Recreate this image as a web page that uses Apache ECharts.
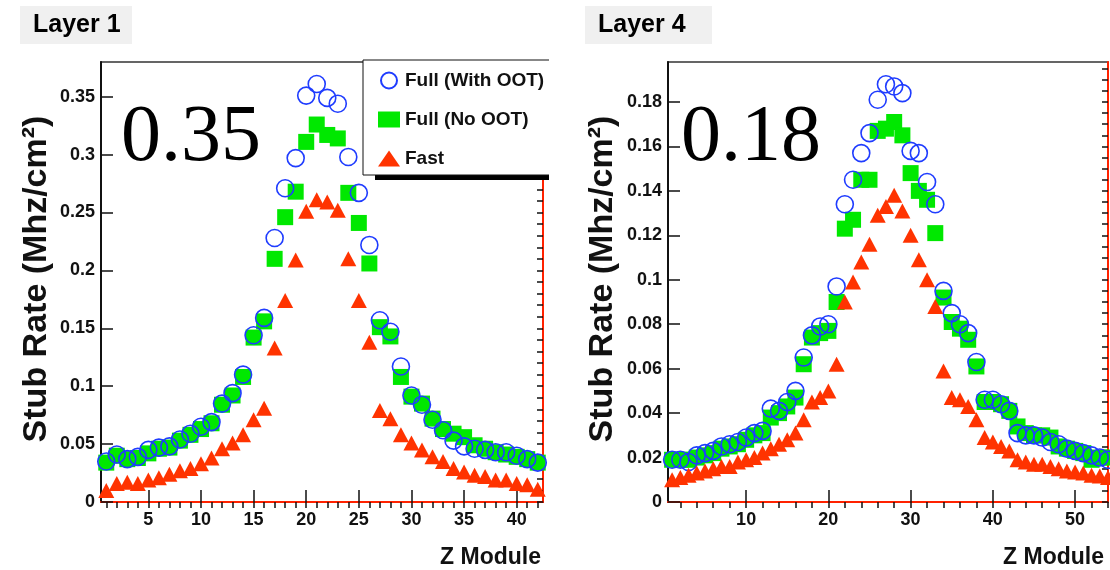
<!DOCTYPE html>
<html>
<head>
<meta charset="utf-8">
<script src="https://cdn.jsdelivr.net/npm/echarts@6/dist/echarts.min.js"></script>
<style>
  html, body { margin: 0; padding: 0; background: #fff; }
  #chart { width: 1110px; height: 570px; }
</style>
</head>
<body>
<div id="chart"></div>
<script>
// Layer 1: modules 1..42
const layer1WithOOT = [0.035, 0.041, 0.037, 0.039, 0.045, 0.047, 0.048, 0.054, 0.059, 0.065,
  0.069, 0.085, 0.094, 0.110, 0.144, 0.159, 0.228, 0.271, 0.297, 0.351,
  0.361, 0.349, 0.344, 0.298, 0.267, 0.222, 0.157, 0.147, 0.117, 0.092,
  0.084, 0.071, 0.062, 0.053, 0.048, 0.046, 0.045, 0.043, 0.043, 0.040,
  0.037, 0.034]
const layer1NoOOT = [0.034, 0.040, 0.037, 0.038, 0.042, 0.046, 0.047, 0.053, 0.058, 0.063,
  0.068, 0.084, 0.092, 0.108, 0.142, 0.156, 0.210, 0.246, 0.268, 0.311,
  0.326, 0.317, 0.314, 0.267, 0.241, 0.206, 0.151, 0.143, 0.108, 0.091,
  0.085, 0.072, 0.063, 0.059, 0.056, 0.049, 0.046, 0.043, 0.041, 0.039,
  0.037, 0.034]
const layer1Fast = [0.010, 0.016, 0.017, 0.016, 0.019, 0.021, 0.024, 0.027, 0.029, 0.033,
  0.038, 0.046, 0.051, 0.058, 0.071, 0.081, 0.133, 0.174, 0.209, 0.251,
  0.261, 0.259, 0.252, 0.210, 0.174, 0.138, 0.079, 0.072, 0.058, 0.051,
  0.045, 0.039, 0.035, 0.029, 0.026, 0.023, 0.022, 0.019, 0.019, 0.016,
  0.015, 0.011]

// Layer 4: modules 1..54
const layer4WithOOT = [0.019, 0.019, 0.018, 0.021, 0.022, 0.023, 0.025, 0.026, 0.027, 0.029,
  0.031, 0.032, 0.042, 0.041, 0.045, 0.050, 0.065, 0.075, 0.079, 0.080,
  0.097, 0.134, 0.145, 0.157, 0.166, 0.181, 0.188, 0.187, 0.184, 0.158,
  0.157, 0.144, 0.134, 0.095, 0.085, 0.080, 0.076, 0.063, 0.046, 0.046,
  0.044, 0.041, 0.031, 0.030, 0.030, 0.029, 0.027, 0.026, 0.024, 0.023,
  0.022, 0.021, 0.020, 0.019]
const layer4NoOOT = [0.019, 0.019, 0.019, 0.020, 0.021, 0.022, 0.024, 0.025, 0.026, 0.028,
  0.030, 0.031, 0.038, 0.040, 0.043, 0.047, 0.062, 0.074, 0.076, 0.077,
  0.090, 0.123, 0.127, 0.145, 0.145, 0.167, 0.168, 0.171, 0.165, 0.148,
  0.140, 0.136, 0.121, 0.092, 0.081, 0.078, 0.073, 0.061, 0.045, 0.045,
  0.044, 0.041, 0.034, 0.031, 0.030, 0.030, 0.029, 0.025, 0.024, 0.023,
  0.022, 0.019, 0.020, 0.020]
const layer4Fast = [0.010, 0.011, 0.012, 0.013, 0.014, 0.015, 0.016, 0.016, 0.018, 0.019,
  0.020, 0.022, 0.024, 0.026, 0.028, 0.031, 0.037, 0.045, 0.047, 0.050,
  0.062, 0.090, 0.099, 0.108, 0.116, 0.129, 0.133, 0.138, 0.131, 0.120,
  0.109, 0.100, 0.088, 0.059, 0.047, 0.046, 0.043, 0.037, 0.029, 0.027,
  0.025, 0.023, 0.019, 0.018, 0.017, 0.017, 0.016, 0.015, 0.014, 0.0135,
  0.013, 0.012, 0.0117, 0.011]

// tick positions
const l1XMajor = [5, 10, 15, 20, 25, 30, 35, 40]
const l1XMinor = Array.from({ length: 42 }, (_, i) => i + 1)
const l1YMajor = [0, 0.05, 0.1, 0.15, 0.2, 0.25, 0.3, 0.35]
const l1YMinor = Array.from({ length: 38 }, (_, i) => +(i * 0.01).toFixed(2))
const l4XMajor = [10, 20, 30, 40, 50]
const l4XMinor = Array.from({ length: 27 }, (_, i) => (i + 1) * 2)
const l4YMajor = [0, 0.02, 0.04, 0.06, 0.08, 0.1, 0.12, 0.14, 0.16, 0.18]
const l4YMinor = Array.from({ length: 40 }, (_, i) => +(i * 0.005).toFixed(3))

const FONT = 'Liberation Sans'
const toPoints = vals => vals.map((v, i) => [i + 1, v])

function xAxes(gridIndex, min, max, major, minor) {
  return [{
    type: 'value', gridIndex, min, max,
    splitLine: { show: false },
    axisLine: { lineStyle: { color: '#111', width: 2 } },
    axisTick: { inside: true, length: 12, customValues: major, lineStyle: { color: '#111', width: 1.5 } },
    axisLabel: { customValues: major, margin: 9, fontFamily: FONT, fontWeight: 'bold', fontSize: 18, color: '#111' }
  }, {
    type: 'value', gridIndex, min, max, offset: 2,
    splitLine: { show: false },
    axisLine: { lineStyle: { color: '#ff2200', width: 2 } },
    axisTick: { inside: true, length: 6, customValues: minor, lineStyle: { color: '#111', width: 1.5 } },
    axisLabel: { show: false }
  }]
}

function yAxes(gridIndex, max, major, minor) {
  return [{
    type: 'value', gridIndex, min: 0, max,
    splitLine: { show: false },
    axisLine: { show: true, lineStyle: { color: '#111', width: 2 } },
    axisTick: { inside: true, length: 12, customValues: major, lineStyle: { color: '#111', width: 1.5 } },
    axisLabel: { customValues: major, margin: 6, fontFamily: FONT, fontWeight: 'bold', fontSize: 18, color: '#111' }
  }, {
    type: 'value', gridIndex, min: 0, max,
    splitLine: { show: false },
    axisLine: { show: false },
    axisTick: { inside: true, length: 6, customValues: minor, lineStyle: { color: '#111', width: 1.5 } },
    axisLabel: { show: false }
  }, {
    type: 'value', gridIndex, min: 0, max, position: 'right',
    splitLine: { show: false },
    axisLine: { show: true, lineStyle: { color: '#ff2200', width: 2 } },
    axisTick: { show: false },
    axisLabel: { show: false }
  }]
}

function seriesFor(xi, yi, withOOT, noOOT, fast) {
  return [{
    name: 'Full (No OOT)', type: 'scatter', xAxisIndex: xi, yAxisIndex: yi, z: 2,
    symbol: 'rect', symbolSize: 16,
    itemStyle: { color: '#00e800', opacity: 1 },
    data: toPoints(noOOT)
  }, {
    name: 'Full (With OOT)', type: 'scatter', xAxisIndex: xi, yAxisIndex: yi, z: 3,
    symbol: 'circle', symbolSize: 17,
    itemStyle: { color: 'rgba(255,255,255,0)', borderColor: '#1f3cff', borderWidth: 1.6, opacity: 1 },
    data: toPoints(withOOT)
  }, {
    name: 'Fast', type: 'scatter', xAxisIndex: xi, yAxisIndex: yi, z: 4,
    symbol: 'triangle', symbolSize: [16, 15],
    itemStyle: { color: '#ff3300', opacity: 1 },
    data: toPoints(fast)
  }]
}

function titleBox(x, w, label) {
  return {
    type: 'group', left: x, top: 6,
    children: [
      { type: 'rect', shape: { x: 0, y: 0, width: w, height: 38 }, style: { fill: '#f0f0f0' } },
      { type: 'text', x: 13, y: 19, style: { text: label, fill: '#000', font: 'bold 25px ' + FONT, verticalAlign: 'middle' } }
    ]
  }
}

const chart = echarts.init(document.getElementById('chart'))
chart.setOption({
  animation: false,
  backgroundColor: '#fff',
  grid: [
    { left: 101, top: 62, width: 442, height: 440, show: true, borderColor: '#333', borderWidth: 1.5 },
    { left: 668, top: 62, width: 440, height: 440, show: true, borderColor: '#333', borderWidth: 1.5 }
  ],
  xAxis: [
    ...xAxes(0, 0.5, 42.5, l1XMajor, l1XMinor),
    ...xAxes(1, 0.5, 54, l4XMajor, l4XMinor)
  ],
  yAxis: [
    ...yAxes(0, 0.38, l1YMajor, l1YMinor),
    ...yAxes(1, 0.198, l4YMajor, l4YMinor)
  ],
  legend: {
    data: ['Full (With OOT)', 'Full (No OOT)', 'Fast'],
    orient: 'vertical',
    left: 363, top: 60,
    padding: [11, 11, 7, 15],
    itemGap: 20,
    itemWidth: 22, itemHeight: 16,
    backgroundColor: '#fff',
    borderColor: '#111', borderWidth: 1,
    textStyle: { fontFamily: FONT, fontWeight: 'bold', fontSize: 19, lineHeight: 18, color: '#111' },
    z: 10
  },
  graphic: [
    { type: 'rect', z: 9, shape: { x: 375, y: 172, width: 175, height: 8 }, style: { fill: '#000' } },
    { type: 'rect', z: 20, shape: { x: 549, y: 50, width: 30, height: 140 }, style: { fill: '#fff' } },
    titleBox(20, 112, 'Layer 1'),
    titleBox(585, 127, 'Layer 4'),
    { type: 'text', z: 30, x: 121, y: 139, style: { text: '0.35', fill: '#000', font: '80px "Liberation Serif"', verticalAlign: 'middle' } },
    { type: 'text', z: 30, x: 681, y: 139, style: { text: '0.18', fill: '#000', font: '80px "Liberation Serif"', verticalAlign: 'middle' } },
    { type: 'text', x: 37, y: 279, rotation: Math.PI / 2, style: { text: 'Stub Rate (Mhz/cm²)', fill: '#111', font: 'bold 34px ' + FONT, align: 'center', verticalAlign: 'middle' } },
    { type: 'text', x: 603, y: 279, rotation: Math.PI / 2, style: { text: 'Stub Rate (Mhz/cm²)', fill: '#111', font: 'bold 34px ' + FONT, align: 'center', verticalAlign: 'middle' } },
    { type: 'text', x: 541, y: 558, style: { text: 'Z Module', fill: '#111', font: 'bold 23px ' + FONT, align: 'right', verticalAlign: 'middle' } },
    { type: 'text', x: 1104, y: 558, style: { text: 'Z Module', fill: '#111', font: 'bold 23px ' + FONT, align: 'right', verticalAlign: 'middle' } }
  ],
  series: [
    ...seriesFor(0, 0, layer1WithOOT, layer1NoOOT, layer1Fast),
    ...seriesFor(2, 3, layer4WithOOT, layer4NoOOT, layer4Fast)
  ]
})
</script>
</body>
</html>
